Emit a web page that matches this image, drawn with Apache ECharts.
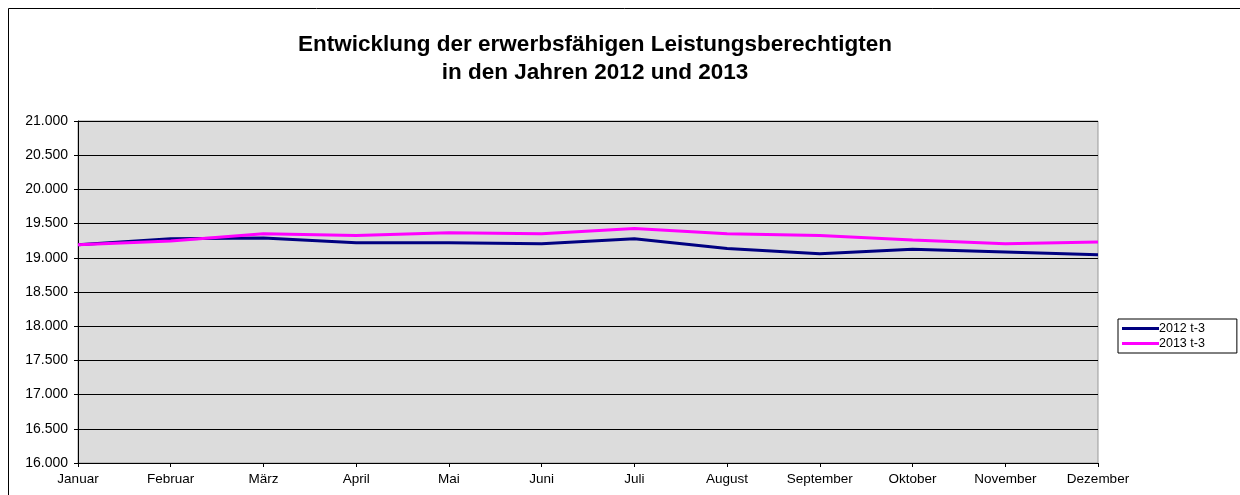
<!DOCTYPE html>
<html>
<head>
    <meta charset="utf-8">
    <title>Leistungsberechtigte</title>
    <script src="https://cdn.jsdelivr.net/npm/echarts@6/dist/echarts.min.js"></script>
    <style>
        html, body { margin: 0; padding: 0; background: #fff; }
        #main { width: 1240px; height: 495px; }
    </style>
</head>
<body>
    <div id="main"></div>
<script type="text/javascript">
    // Monate
    var months = ['Januar', 'Februar', 'März', 'April', 'Mai', 'Juni', 'Juli',
        'August', 'September', 'Oktober', 'November', 'Dezember'];
    // Werte aus dem Bild geschätzt
    var values2012 = [19190, 19280, 19290, 19220, 19220, 19205, 19280, 19135, 19060, 19125, 19085, 19045];
    var values2013 = [19190, 19245, 19350, 19325, 19365, 19352, 19430, 19352, 19325, 19260, 19205, 19230];

    function fmt(v) {
        return String(v).replace(/\B(?=(\d{3})+(?!\d))/g, '.');
    }

    var chart = echarts.init(document.getElementById('main'));
    chart.setOption({
        backgroundColor: '#fff',
        animation: false,
        textStyle: { fontFamily: 'Liberation Sans, Arial, sans-serif' },
        title: {
            text: 'Entwicklung der erwerbsfähigen Leistungsberechtigten\nin den Jahren 2012 und 2013',
            left: 590,
            top: 26,
            textAlign: 'center',
            textStyle: {
                fontSize: 22.5,
                fontWeight: 'bold',
                color: '#000',
                lineHeight: 28,
                align: 'center'
            }
        },
        graphic: [{
            type: 'rect',
            shape: { x: 8.5, y: 8.5, width: 1240, height: 500 },
            style: { fill: 'none', stroke: '#000', lineWidth: 1 },
            silent: true
        }],
        legend: {
            orient: 'vertical',
            left: 1118,
            top: 319,
            padding: [3, 32, 3, 4],
            itemGap: 2,
            itemWidth: 37,
            itemHeight: 3,
            borderColor: '#000',
            borderWidth: 1,
            textStyle: { fontSize: 12.5, color: '#000', padding: [0, 0, 0, -5] },
            data: [
                { name: '2012 t-3', icon: 'rect' },
                { name: '2013 t-3', icon: 'rect' }
            ]
        },
        grid: {
            left: 78,
            right: 142,
            top: 121,
            bottom: 32,
            show: true,
            backgroundColor: '#dcdcdc',
            borderColor: '#999',
            borderWidth: 1
        },
        xAxis: {
            type: 'category',
            data: months,
            boundaryGap: false,
            axisLine: { lineStyle: { color: '#000', width: 1 } },
            axisTick: { show: true, length: 4, lineStyle: { color: '#000' } },
            axisLabel: { color: '#000', fontSize: 13.5, margin: 9 },
            splitLine: { show: false }
        },
        yAxis: {
            type: 'value',
            min: 16000,
            max: 21000,
            interval: 500,
            axisLine: { show: true, lineStyle: { color: '#000', width: 1 } },
            axisTick: { show: true, length: 4, lineStyle: { color: '#000' } },
            axisLabel: {
                color: '#000',
                fontSize: 14,
                margin: 10,
                formatter: function(v) { return fmt(v); }
            },
            splitLine: { show: true, lineStyle: { color: '#000', width: 1 } }
        },
        series: [{
            name: '2012 t-3',
            type: 'line',
            data: values2012,
            symbol: 'none',
            itemStyle: { color: '#000080' },
            lineStyle: { color: '#000080', width: 3 }
        }, {
            name: '2013 t-3',
            type: 'line',
            data: values2013,
            symbol: 'none',
            itemStyle: { color: '#ff00ff' },
            lineStyle: { color: '#ff00ff', width: 3 }
        }]
    });
</script>
</body>
</html>
